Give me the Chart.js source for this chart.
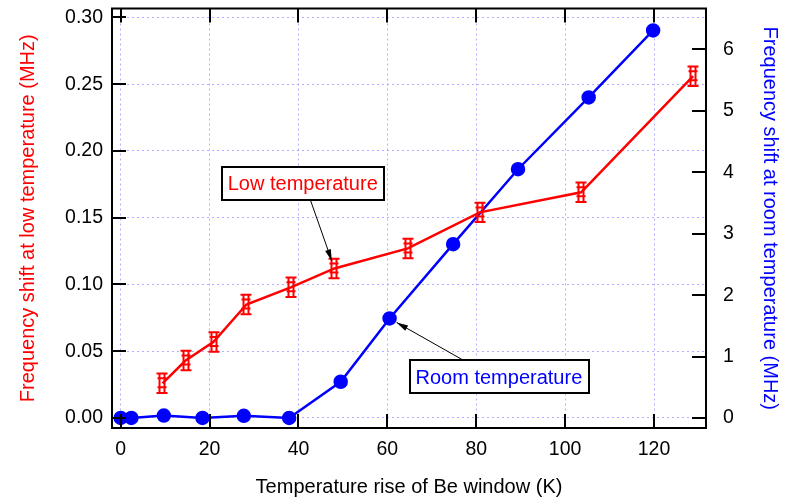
<!DOCTYPE html>
<html>
<head>
<meta charset="utf-8">
<script src="https://cdn.jsdelivr.net/npm/chart.js@4.4.0/dist/chart.umd.min.js"></script>
<style>
  body { margin: 0; background: #fff; }
</style>
</head>
<body>
<canvas id="chart" width="788" height="500"></canvas>
<script>
// low temperature series (left axis, MHz) with error bars
const lowTemp  = [9.4, 14.6, 20.9, 28.3, 38.4, 48.1, 64.6, 80.8, 103.6, 128.8];
const lowShift = [0.026, 0.043, 0.057, 0.085, 0.098, 0.112, 0.127, 0.154, 0.169, 0.256];
const lowErr   = [0.0073, 0.0073, 0.0073, 0.0073, 0.0073, 0.0073, 0.0073, 0.0073, 0.0073, 0.0073];

// room temperature series (right axis, MHz)
const roomTemp  = [0, 2.4, 9.7, 18.4, 27.7, 37.9, 49.5, 60.5, 74.8, 89.4, 105.3, 119.8];
const roomShift = [0, 0, 0.04, 0, 0.035, 0, 0.59, 1.62, 2.83, 4.05, 5.22, 6.31];

const xTicks = [0, 20, 40, 60, 80, 100, 120];
const leftTicks = [0, 0.05, 0.10, 0.15, 0.20, 0.25, 0.30];
const rightTicks = [0, 1, 2, 3, 4, 5, 6];

const RED = '#ff0000';
const BLUE = '#0000ff';
const FONT = 'Liberation Sans, Arial, sans-serif';
Chart.defaults.font.family = FONT;

const setTicks = vals => scale => { scale.ticks = vals.map(v => ({ value: v })); };
const fitTo = (w, h) => s => {
  if (w) s.width = w;
  if (h) s.height = h;
  s.paddingTop = 0; s.paddingBottom = 0;
  s.paddingLeft = 0; s.paddingRight = 0;
};

const frame = {
  id: 'frame',
  afterDatasetsDraw(chart) {
    const { ctx, scales } = chart;
    ctx.save();
    ctx.strokeStyle = RED;
    ctx.lineWidth = 2;
    lowTemp.forEach((t, i) => {
      const x = Math.round(scales.x.getPixelForValue(t));
      const y = scales.y.getPixelForValue(lowShift[i]);
      const yt = scales.y.getPixelForValue(lowShift[i] + lowErr[i]);
      const yb = scales.y.getPixelForValue(lowShift[i] - lowErr[i]);
      ctx.beginPath();
      // caps
      ctx.moveTo(x - 5.5, yt); ctx.lineTo(x + 5.5, yt);
      ctx.moveTo(x - 5.5, yb); ctx.lineTo(x + 5.5, yb);
      // double stem
      ctx.moveTo(x - 2.5, yt); ctx.lineTo(x - 2.5, yb);
      ctx.moveTo(x + 2.5, yt); ctx.lineTo(x + 2.5, yb);
      // marker box
      ctx.moveTo(x - 4.5, y - 5); ctx.lineTo(x + 4.5, y - 5);
      ctx.moveTo(x - 4.5, y + 4); ctx.lineTo(x + 4.5, y + 4);
      ctx.stroke();
    });
    ctx.restore();
  },
  afterDraw(chart) {
    const { ctx, chartArea: a, scales } = chart;
    ctx.save();
    // frame
    ctx.strokeStyle = '#000';
    ctx.lineWidth = 2;
    ctx.strokeRect(a.left, a.top, a.right - a.left, a.bottom - a.top);
    // inward ticks
    const L = 14;
    ctx.beginPath();
    leftTicks.forEach(v => {
      const y = Math.round(scales.y.getPixelForValue(v));
      ctx.moveTo(a.left, y); ctx.lineTo(a.left + L, y);
    });
    rightTicks.forEach(v => {
      const y = Math.round(scales.y2.getPixelForValue(v));
      ctx.moveTo(a.right - L, y); ctx.lineTo(a.right, y);
    });
    xTicks.forEach(v => {
      const x = Math.round(scales.x.getPixelForValue(v));
      ctx.moveTo(x, a.bottom); ctx.lineTo(x, a.bottom - L);
      ctx.moveTo(x, a.top); ctx.lineTo(x, a.top + L);
    });
    ctx.stroke();

    // annotations
    const note = (text, color, cx, cy, tx, ty, sx, sy) => {
      ctx.font = '20px ' + FONT;
      const w = ctx.measureText(text).width + 12;
      const h = 33;
      // arrow
      const ang = Math.atan2(ty - sy, tx - sx);
      const ex = tx - Math.cos(ang) * 8, ey = ty - Math.sin(ang) * 8;
      ctx.strokeStyle = '#000';
      ctx.lineWidth = 1;
      ctx.beginPath();
      ctx.moveTo(sx, sy); ctx.lineTo(ex, ey);
      ctx.stroke();
      ctx.fillStyle = '#000';
      ctx.beginPath();
      ctx.moveTo(ex, ey);
      ctx.lineTo(ex - Math.cos(ang - 0.25) * 12, ey - Math.sin(ang - 0.25) * 12);
      ctx.lineTo(ex - Math.cos(ang + 0.25) * 12, ey - Math.sin(ang + 0.25) * 12);
      ctx.closePath();
      ctx.fill();
      // box
      ctx.fillStyle = '#fff';
      ctx.fillRect(cx - w / 2, cy - h / 2, w, h);
      ctx.lineWidth = 2;
      ctx.strokeRect(Math.round(cx - w / 2), Math.round(cy - h / 2), Math.round(w), h);
      ctx.fillStyle = color;
      ctx.textAlign = 'center';
      ctx.textBaseline = 'middle';
      ctx.fillText(text, cx, cy + 1);
    };
    const lx = scales.x.getPixelForValue(40.96), ly = scales.y.getPixelForValue(0.1753);
    note('Low temperature', RED, lx, ly,
      scales.x.getPixelForValue(lowTemp[5]), scales.y.getPixelForValue(lowShift[5]),
      lx + 8, ly + 17);
    const rx = scales.x.getPixelForValue(85.1), ry = scales.y.getPixelForValue(0.0307);
    note('Room temperature', BLUE, rx, ry,
      scales.x.getPixelForValue(roomTemp[7]), scales.y2.getPixelForValue(roomShift[7]),
      rx - 36, ry - 17);
    ctx.restore();
  }
};

const gridStyle = {
  color: 'rgba(150,150,255,0.75)',
  lineWidth: 1,
  drawTicks: false
};

new Chart(document.getElementById('chart'), {
  type: 'line',
  data: {
    datasets: [
      {
        label: 'Low temperature',
        data: lowTemp.map((t, i) => ({ x: t, y: lowShift[i] })),
        yAxisID: 'y',
        borderColor: RED,
        borderWidth: 2.5,
        pointRadius: 0,
        order: 0
      },
      {
        label: 'Room temperature',
        data: roomTemp.map((t, i) => ({ x: t, y: roomShift[i] })),
        yAxisID: 'y2',
        borderColor: BLUE,
        backgroundColor: BLUE,
        pointBackgroundColor: BLUE,
        pointBorderColor: BLUE,
        borderWidth: 2.5,
        pointRadius: 6,
        order: 1
      }
    ]
  },
  options: {
    responsive: false,
    animation: false,
    layout: { padding: { top: 8, left: 0, right: 0, bottom: 0 } },
    plugins: { legend: { display: false }, tooltip: { enabled: false } },
    scales: {
      x: {
        type: 'linear',
        position: 'bottom',
        min: -1.96,
        max: 131.7,
        afterBuildTicks: setTicks(xTicks),
        afterFit: fitTo(0, 72),
        grid: gridStyle,
        border: { display: false, dash: [2, 3] },
        ticks: { color: '#000', font: { size: 19.5 }, padding: 10, maxRotation: 0 },
        title: {
          display: true,
          text: 'Temperature rise of Be window (K)',
          color: '#000',
          font: { size: 20 },
          padding: { top: 0, bottom: 1 }
        }
      },
      y: {
        type: 'linear',
        position: 'left',
        min: -0.0075,
        max: 0.3067,
        afterBuildTicks: setTicks(leftTicks),
        afterFit: fitTo(112, 0),
        grid: gridStyle,
        border: { display: false, dash: [2, 3] },
        ticks: { color: '#000', font: { size: 19.5 }, padding: 9, callback: v => v.toFixed(2) },
        title: {
          display: true,
          text: 'Frequency shift at low temperature (MHz)',
          color: RED,
          font: { size: 20 },
          padding: { top: 16, bottom: 0 }
        }
      },
      y2: {
        type: 'linear',
        position: 'right',
        min: -0.163,
        max: 6.667,
        afterBuildTicks: setTicks(rightTicks),
        afterFit: fitTo(82, 0),
        grid: { display: false, drawTicks: false },
        border: { display: false },
        ticks: { color: '#000', font: { size: 19.5 }, padding: 17 },
        title: {
          display: true,
          text: 'Frequency shift at room temperature (MHz)',
          color: BLUE,
          font: { size: 20 },
          padding: { top: 6, bottom: 0 }
        }
      }
    }
  },
  plugins: [frame]
});
</script>
</body>
</html>
